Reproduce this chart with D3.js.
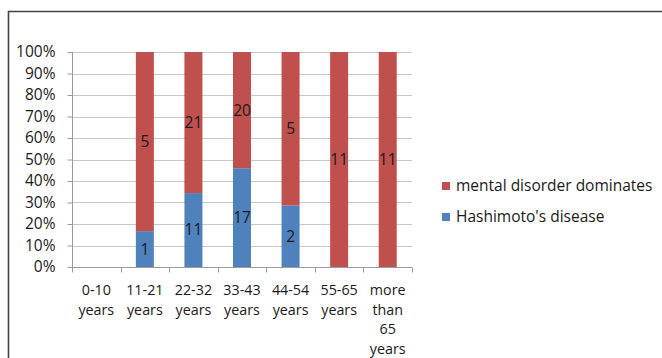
<!DOCTYPE html>
<html>
<head>
<meta charset="utf-8">
<script src="https://cdn.jsdelivr.net/npm/d3@7"></script>
<style>
  html, body { margin: 0; padding: 0; background: #fff; }
  svg { display: block; }
  text { font-family: "Open Sans", "Liberation Sans", sans-serif; fill: #1a1a1a; }
</style>
</head>
<body>
<svg id="chart" width="662" height="358"></svg>
<script>
// Age groups and patient counts per diagnosis
const categories = ["0-10 years", "11-21 years", "22-32 years", "33-43 years", "44-54 years", "55-65 years", "more than 65 years"];
const categoryLines = [["0-10", "years"], ["11-21", "years"], ["22-32", "years"], ["33-43", "years"], ["44-54", "years"], ["55-65", "years"], ["more", "than", "65", "years"]];
const hashimoto = [0, 1, 11, 17, 2, 0, 0];
const mentalDisorder = [0, 5, 21, 20, 5, 11, 11];
const seriesNames = ["Hashimoto's disease", "mental disorder dominates"];
const seriesColors = ["#4F81BD", "#C0504D"];
const yTicks = [0, 0.1, 0.2, 0.3, 0.4, 0.5, 0.6, 0.7, 0.8, 0.9, 1];

const FONT = 15.5;
const CAT_FONT = 14.3;
const svg = d3.select("#chart");

// outer frame (top and left edges visible)
svg.append("path")
  .attr("d", "M8.5,358 V11.5 H662")
  .attr("fill", "none")
  .attr("stroke", "#444")
  .attr("stroke-width", 1.6);

const plot = { left: 72, right: 412, top: 52, bottom: 267 };

const x = d3.scaleBand().domain(categories).range([plot.left, plot.right]).paddingInner(0).paddingOuter(0);
const y = d3.scaleLinear().domain([0, 1]).range([plot.bottom, plot.top]);

// gridlines
svg.append("g")
  .selectAll("line")
  .data(yTicks.slice(1))
  .join("line")
  .attr("x1", plot.left).attr("x2", plot.right)
  .attr("y1", d => Math.round(y(d)) + 0.5).attr("y2", d => Math.round(y(d)) + 0.5)
  .attr("stroke", "#c8c8c8").attr("stroke-width", 1);

// stacked percentage data
const stackData = categories.map((c, i) => {
  const total = hashimoto[i] + mentalDisorder[i];
  return {
    cat: c,
    h: total ? hashimoto[i] / total : 0,
    m: total ? mentalDisorder[i] / total : 0,
    hv: hashimoto[i], mv: mentalDisorder[i]
  };
});
const layers = d3.stack().keys(["h", "m"])(stackData);

const barW = 18;
layers.forEach((layer, li) => {
  const g = svg.append("g");
  g.selectAll("rect")
    .data(layer)
    .join("rect")
    .attr("x", d => x(d.data.cat) + x.bandwidth() / 2 - barW / 2)
    .attr("width", barW)
    .attr("y", d => y(d[1]))
    .attr("height", d => Math.max(0, y(d[0]) - y(d[1])))
    .attr("fill", seriesColors[li]);
  g.selectAll("text")
    .data(layer.filter(d => d[1] - d[0] > 0))
    .join("text")
    .attr("x", d => x(d.data.cat) + x.bandwidth() / 2)
    .attr("y", d => y((d[0] + d[1]) / 2))
    .attr("dy", "0.35em")
    .attr("text-anchor", "middle")
    .attr("font-size", FONT)
    .text(d => li === 0 ? d.data.hv : d.data.mv);
});

// y axis
const yAxis = d3.axisLeft(y).tickValues(yTicks).tickFormat(d3.format(".0%")).tickSize(5).tickPadding(12);
const gy = svg.append("g").attr("transform", `translate(${plot.left + 0.5},0)`).call(yAxis);
gy.select(".domain").attr("stroke", "#9a9a9a").attr("d", `M0,${plot.top}V${plot.bottom}`);
gy.selectAll(".tick line").attr("stroke", "#9a9a9a");
gy.selectAll(".tick text").attr("font-size", FONT).attr("font-family", null).attr("fill", "#1a1a1a");

// x axis with boundary tick marks
const gx = svg.append("g").attr("transform", `translate(0,${plot.bottom + 0.5})`);
gx.append("line").attr("x1", plot.left).attr("x2", plot.right).attr("stroke", "#9a9a9a");
const bounds = categories.map(c => x(c)).concat([plot.right]);
gx.selectAll("line.tk").data(bounds).join("line").attr("class", "tk")
  .attr("x1", d => Math.round(d) + 0.5).attr("x2", d => Math.round(d) + 0.5)
  .attr("y1", 0).attr("y2", 5).attr("stroke", "#9a9a9a");
const labels = gx.selectAll("text.cat").data(categories).join("text").attr("class", "cat")
  .attr("x", d => x(d) + x.bandwidth() / 2)
  .attr("text-anchor", "middle")
  .attr("font-size", CAT_FONT);
labels.each(function(d, i) {
  d3.select(this).selectAll("tspan").data(categoryLines[i]).join("tspan")
    .attr("x", x(d) + x.bandwidth() / 2)
    .attr("y", (t, j) => 27.5 + j * 19.6)
    .text(t => t);
});

// legend
const legend = svg.append("g").attr("transform", "translate(442,0)");
const legendItems = [{ name: seriesNames[1], color: seriesColors[1], y: 186 }, { name: seriesNames[0], color: seriesColors[0], y: 217 }];
legendItems.forEach(it => {
  legend.append("rect").attr("x", 0).attr("y", it.y - 4).attr("width", 8).attr("height", 8).attr("fill", it.color);
  legend.append("text").attr("x", 14).attr("y", it.y).attr("dy", "0.35em").attr("font-size", FONT).text(it.name);
});
</script>
</body>
</html>
